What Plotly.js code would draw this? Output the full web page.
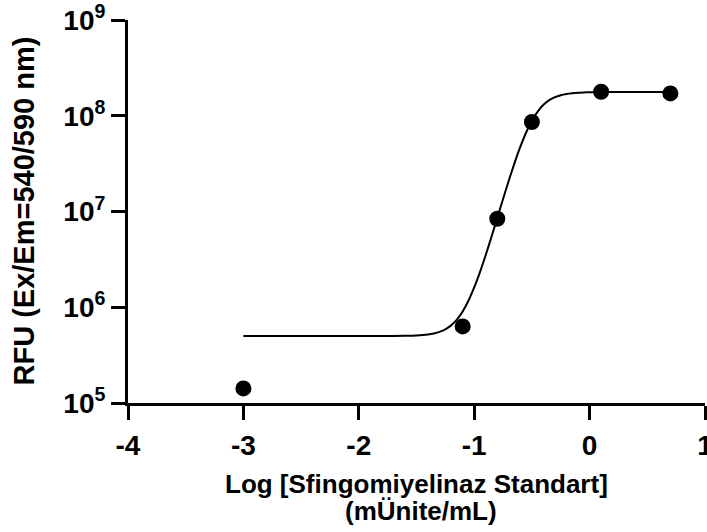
<!DOCTYPE html>
<html>
<head>
<meta charset="utf-8">
<script src="https://cdn.plot.ly/plotly-3.0.1.min.js"></script>
<style>html,body{margin:0;padding:0;background:#fff;}#chart{width:707px;height:532px;}</style>
</head>
<body>
<div id="chart"></div>
<script>
// Measured data points (log concentration, RFU)
const logConc = [-3, -1.1, -0.8, -0.5, 0.1, 0.7];
const rfu = [1.42e5, 6.3e5, 8.4e6, 8.6e7, 1.78e8, 1.71e8];

// Fitted curve, values
const curveX = [-3, -2.5, -2, -1.8, -1.6, -1.5, -1.4, -1.35, -1.3, -1.25, -1.2, -1.15, -1.1, -1.05, -1.0,
  -0.95, -0.9, -0.85, -0.8, -0.75, -0.7, -0.65, -0.6, -0.55, -0.5, -0.45, -0.4, -0.35, -0.3, -0.25,
  -0.2, -0.15, -0.1, -0.05, 0, 0.1, 0.2, 0.3, 0.4, 0.5, 0.6, 0.7];
const curveY = [5.0e5, 5.0e5, 5.0e5, 5.0e5, 5.03e5, 5.07e5, 5.19e5, 5.32e5, 5.53e5, 5.88e5, 6.47e5, 7.43e5, 9.03e5, 1.17e6, 1.61e6,
  2.33e6, 3.51e6, 5.45e6, 8.56e6, 1.35e7, 2.11e7, 3.22e7, 4.75e7, 6.69e7, 8.88e7, 1.106e8, 1.30e8, 1.453e8, 1.564e8, 1.64e8,
  1.689e8, 1.72e8, 1.74e8, 1.752e8, 1.759e8, 1.766e8, 1.768e8, 1.77e8, 1.77e8, 1.77e8, 1.77e8, 1.77e8];

const xTickVals = [-4, -3, -2, -1, 0, 1];
const yTickVals = [1e5, 1e6, 1e7, 1e8, 1e9];
const yTickText = ['10<sup>5</sup>', '10<sup>6</sup>', '10<sup>7</sup>', '10<sup>8</sup>', '10<sup>9</sup>'];

const xTitleLines = ['Log [Sfingomiyelinaz Standart]', '(mÜnite/mL)'];
const yTitle = 'RFU (Ex/Em=540/590 nm)';

const FONT = 'Liberation Sans, Arial, sans-serif';

const traces = [
  {
    x: curveX, y: curveY, type: 'scatter', mode: 'lines',
    line: {color: '#000', width: 2, shape: 'spline', smoothing: 0.6},
    hoverinfo: 'skip', showlegend: false
  },
  {
    x: logConc, y: rfu, type: 'scatter', mode: 'markers',
    marker: {color: '#000', size: 16},
    showlegend: false, cliponaxis: false
  }
];

const layout = {
  width: 707, height: 532,
  margin: {l: 128, r: 2, t: 20, b: 129},
  paper_bgcolor: '#fff', plot_bgcolor: '#fff',
  font: {family: FONT, color: '#000'},
  xaxis: {
    range: [-4, 1], tickvals: xTickVals, ticktext: xTickVals.map(String),
    showgrid: false, zeroline: false, showline: true, linecolor: '#000', linewidth: 3,
    ticks: 'outside', ticklen: 14, tickwidth: 3, tickcolor: '#000',
    ticklabelstandoff: 1, ticklabeloverflow: 'allow',
    tickfont: {family: FONT, size: 28, weight: 'bold'}
  },
  yaxis: {
    type: 'log', range: [5, 9], tickvals: yTickVals, ticktext: yTickText,
    showgrid: false, zeroline: false, showline: true, linecolor: '#000', linewidth: 3,
    ticks: 'outside', ticklen: 14, tickwidth: 3, tickcolor: '#000',
    ticklabeloverflow: 'allow',
    tickfont: {family: FONT, size: 28, weight: 'bold'}
  },
  annotations: [
    {text: '<b>' + xTitleLines[0] + '</b>', xref: 'paper', yref: 'paper', x: 0.5, y: 0,
     xanchor: 'center', yanchor: 'middle', yshift: -80.5, showarrow: false,
     font: {family: FONT, size: 26, color: '#000'}},
    {text: '<b>' + xTitleLines[1] + '</b>', xref: 'paper', yref: 'paper', x: 0.5, y: 0,
     xanchor: 'center', yanchor: 'middle', yshift: -108, xshift: 4, showarrow: false,
     font: {family: FONT, size: 26, color: '#000'}},
    {text: '<b>' + yTitle + '</b>', xref: 'paper', yref: 'paper', x: 0, y: 0.5,
     xanchor: 'center', yanchor: 'middle', xshift: -105, textangle: -90, showarrow: false,
     font: {family: FONT, size: 29, color: '#000'}}
  ]
};

Plotly.newPlot('chart', traces, layout, {displayModeBar: false, staticPlot: true});
</script>
</body>
</html>
